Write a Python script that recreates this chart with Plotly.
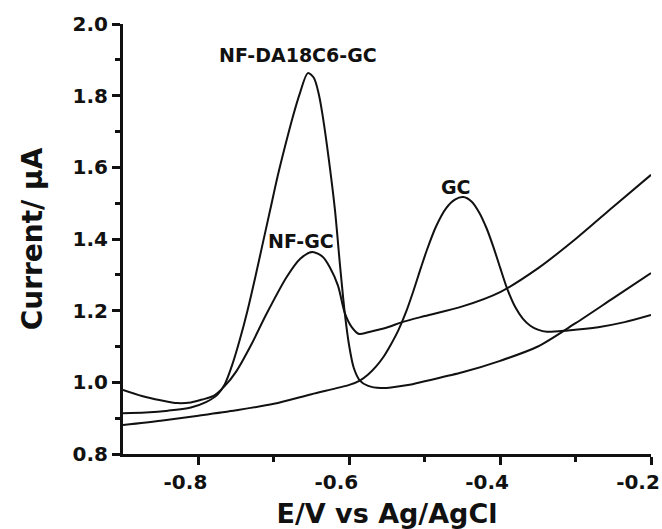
import plotly.graph_objects as go

# ---- data ----
da_x = [-0.900, -0.870, -0.840, -0.810, -0.790, -0.775, -0.765, -0.755, -0.745, -0.735,
        -0.725, -0.715, -0.705, -0.695, -0.685, -0.675, -0.665, -0.655, -0.647, -0.640,
        -0.635, -0.627, -0.619, -0.612, -0.606, -0.600, -0.594, -0.586, -0.575, -0.558,
        -0.540, -0.520, -0.500, -0.450, -0.400, -0.350, -0.300, -0.250, -0.200]
da_y = [0.914, 0.916, 0.921, 0.930, 0.945, 0.965, 0.995, 1.050, 1.120, 1.200,
        1.290, 1.385, 1.480, 1.575, 1.660, 1.740, 1.810, 1.863, 1.850, 1.800,
        1.740, 1.620, 1.481, 1.320, 1.194, 1.100, 1.040, 1.005, 0.990, 0.984,
        0.987, 0.993, 1.003, 1.028, 1.060, 1.100, 1.165, 1.235, 1.305]

nf_x = [-0.900, -0.875, -0.850, -0.828, -0.810, -0.795, -0.780, -0.765, -0.750, -0.730,
        -0.710, -0.683, -0.665, -0.649, -0.635, -0.626, -0.615, -0.606, -0.597, -0.587,
        -0.575, -0.550, -0.530, -0.500, -0.450, -0.400, -0.350, -0.300, -0.250, -0.200]
nf_y = [0.979, 0.962, 0.950, 0.942, 0.944, 0.952, 0.962, 0.990, 1.030, 1.105,
        1.190, 1.294, 1.345, 1.364, 1.350, 1.322, 1.270, 1.194, 1.155, 1.135,
        1.140, 1.153, 1.168, 1.185, 1.212, 1.252, 1.318, 1.400, 1.490, 1.579]

gc_x = [-0.900, -0.850, -0.800, -0.750, -0.700, -0.650, -0.600, -0.586, -0.575, -0.565,
        -0.555, -0.545, -0.535, -0.525, -0.515, -0.505, -0.497, -0.485, -0.472, -0.460,
        -0.449, -0.438, -0.428, -0.418, -0.409, -0.400, -0.391, -0.380, -0.370, -0.360,
        -0.350, -0.338, -0.310, -0.270, -0.235, -0.200]
gc_y = [0.881, 0.893, 0.907, 0.922, 0.940, 0.967, 0.993, 1.005, 1.022, 1.043,
        1.070, 1.105, 1.145, 1.195, 1.255, 1.320, 1.370, 1.435, 1.485, 1.510,
        1.517, 1.505, 1.475, 1.430, 1.378, 1.320, 1.263, 1.210, 1.178, 1.158,
        1.147, 1.141, 1.145, 1.154, 1.168, 1.188]

curve_names = ["NF-DA18C6-GC", "NF-GC", "GC"]
label_x = [-0.668, -0.664, -0.459]
label_y = [1.914, 1.395, 1.545]

x_ticks = [-0.8, -0.6, -0.4, -0.2]
x_minor = [-0.7, -0.5, -0.3]
y_ticks = [0.8, 1.0, 1.2, 1.4, 1.6, 1.8, 2.0]
y_minor = [0.9, 1.1, 1.3, 1.5, 1.7, 1.9]

FONT = "DejaVu Sans"
INK = "#111111"

fig = go.Figure()
for name, xs, ys in zip(curve_names, [da_x, nf_x, gc_x], [da_y, nf_y, gc_y]):
    fig.add_trace(go.Scatter(x=xs, y=ys, mode="lines", name=name,
                             line=dict(color=INK, width=2, shape="spline", smoothing=0.8)))

for t, lx, ly in zip(curve_names, label_x, label_y):
    fig.add_annotation(x=lx, y=ly, xref="x", yref="y", text=t, showarrow=False,
                       font=dict(family=FONT, size=19, color=INK, weight="bold"))

axis_common = dict(showline=True, linewidth=3, linecolor=INK, mirror=False,
                   ticks="outside", ticklen=8, tickwidth=2.5, tickcolor=INK,
                   showgrid=False, zeroline=False, automargin=False,
                   ticklabeloverflow="allow",
                   tickfont=dict(family=FONT, size=20, color=INK, weight="bold"))

fig.update_xaxes(range=[-0.9, -0.2], tickvals=x_ticks,
                 ticktext=[f"{v:.1f}" for v in x_ticks],
                 ticklabelshift=-13,
                 minor=dict(tickvals=x_minor, ticks="outside", ticklen=5, tickwidth=2.5,
                            tickcolor=INK, showgrid=False),
                 title=dict(text="E/V vs Ag/AgCl", standoff=24,
                            font=dict(family=FONT, size=27, color=INK, weight="bold")),
                 **axis_common)
fig.update_yaxes(range=[0.8, 2.0], tickvals=y_ticks,
                 ticktext=[f"{v:.1f}" for v in y_ticks],
                 ticklabelstandoff=0,
                 minor=dict(tickvals=y_minor, ticks="outside", ticklen=5, tickwidth=2.5,
                            tickcolor=INK, showgrid=False),
                 title=dict(text="Current/ μA", standoff=22,
                            font=dict(family=FONT, size=28, color=INK, weight="bold")),
                 **axis_common)

fig.update_layout(width=662, height=529, showlegend=False,
                  margin=dict(l=123, r=11, t=24, b=75),
                  paper_bgcolor="white", plot_bgcolor="white")

# remove the browser's default 8px body margin so the figure fills the window
fig.write_html("out.html", config={"displayModeBar": False},
               post_script="document.body.style.margin='0px';")
